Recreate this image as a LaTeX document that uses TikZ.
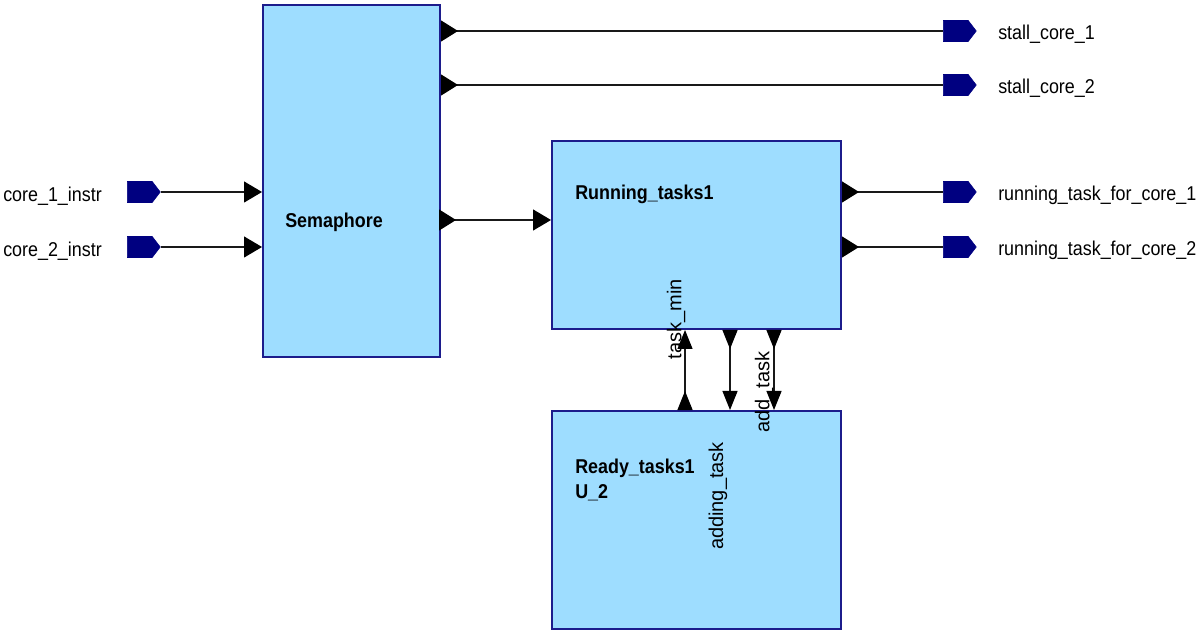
\documentclass[tikz,border=0pt]{standalone}
\usepackage{fontspec}
\setmainfont{Liberation Sans}[FakeStretch=0.895]
\newfontfamily\uprightlabels{Liberation Sans}
\usetikzlibrary{arrows.meta,shapes.symbols}
\definecolor{blockfill}{RGB}{158,221,255}
\definecolor{blockedge}{RGB}{28,28,140}
\definecolor{pinfill}{RGB}{0,0,128}
\tikzset{
  block/.style={draw=blockedge, fill=blockfill, line width=1.5pt, anchor=north west, inner sep=0pt},
  iopin/.style={signal, signal to=east, signal pointer angle=105, draw=pinfill, fill=pinfill,
    line width=0.4pt, minimum width=33*0.75pt, minimum height=21*0.75pt, inner sep=0pt, anchor=west},
  lbl/.style={anchor=base west, inner sep=0pt, font=\fontsize{15pt}{18pt}\selectfont},
  blbl/.style={lbl, font=\fontsize{15pt}{18pt}\selectfont\bfseries},
  rlbl/.style={inner sep=0pt, rotate=90, font=\uprightlabels\fontsize{15pt}{18pt}\selectfont},
  wire/.style={draw=black!90, line width=0.9pt},
  tipH/.tip={Triangle[length=18*0.75pt, width=21*0.75pt, color=black]},
  tipHr/.tip={Triangle[reversed, length=17*0.75pt, width=21*0.75pt, color=black]},
  tipV/.tip={Triangle[length=19*0.75pt, width=15*0.75pt, color=black]},
  tipVr/.tip={Triangle[reversed, length=19*0.75pt, width=15*0.75pt, color=black]},
}
\begin{document}
\begin{tikzpicture}[x=0.75pt, y=-0.75pt]
  \useasboundingbox (0,0) rectangle (1198,630);

  % functional blocks
  \node[block, minimum width=177*0.75pt, minimum height=352*0.75pt] (sem) at (262,4) {};
  \node[block, minimum width=289*0.75pt, minimum height=188*0.75pt] (run) at (551,140) {};
  \node[block, minimum width=289*0.75pt, minimum height=218*0.75pt] (rdy) at (551,410) {};

  \node[blbl] (semlbl) at (285,228) {Semaphore};
  \node[blbl] (runlbl) at (575,200) {Running\_tasks1};
  \node[blbl] (rdylbl) at (575,473) {Ready\_tasks1};
  \node[blbl] (rdylbl2) at (575,498) {U\_2};

  % input ports
  \node[iopin] (in1) at (127,192) {};
  \node[iopin] (in2) at (127,247) {};
  \node[lbl] (in1lbl) at (3,202) {core\_1\_instr};
  \node[lbl] (in2lbl) at (3,257) {core\_2\_instr};

  % output ports
  \node[iopin] (st1) at (943,31) {};
  \node[iopin] (st2) at (943,85) {};
  \node[iopin] (rt1) at (943,192) {};
  \node[iopin] (rt2) at (943,247) {};
  \node[lbl] (st1lbl) at (998,40) {stall\_core\_1};
  \node[lbl] (st2lbl) at (998,94) {stall\_core\_2};
  \node[lbl] (rt1lbl) at (998,201) {running\_task\_for\_core\_1};
  \node[lbl] (rt2lbl) at (998,256) {running\_task\_for\_core\_2};

  % inputs into the semaphore
  \draw[wire, -tipH] (in1.east) -- (sem.west |- in1.east);
  \draw[wire, -tipH] (in2.east) -- (sem.west |- in2.east);

  % semaphore outputs
  \draw[wire, tipHr-] (sem.east |- st1.west) -- (st1.west);
  \draw[wire, tipHr-] (sem.east |- st2.west) -- (st2.west);
  \coordinate (semout) at (439,220);
  \draw[wire, tipHr-tipH] (semout) -- (run.west |- semout);

  % running tasks outputs
  \draw[wire, tipHr-] (run.east |- rt1.west) -- (rt1.west);
  \draw[wire, tipHr-] (run.east |- rt2.west) -- (rt2.west);

  % links between running and ready tasks
  \coordinate (xmin) at (685,0);
  \coordinate (xadding) at (730,0);
  \coordinate (xadd) at (774,0);
  \draw[wire, tipVr-tipV] (rdy.north -| xmin) -- (run.south -| xmin);
  \draw[wire, tipVr-tipV] (run.south -| xadding) -- (rdy.north -| xadding);
  \draw[wire, tipVr-tipV] (run.south -| xadd) -- (rdy.north -| xadd);

  \node[rlbl] (minlbl) at (676,319) {task\_min};
  \node[rlbl] (addinglbl) at (718,496) {adding\_task};
  \node[rlbl] (addlbl) at (764,392) {add\_task};
\end{tikzpicture}
\end{document}
